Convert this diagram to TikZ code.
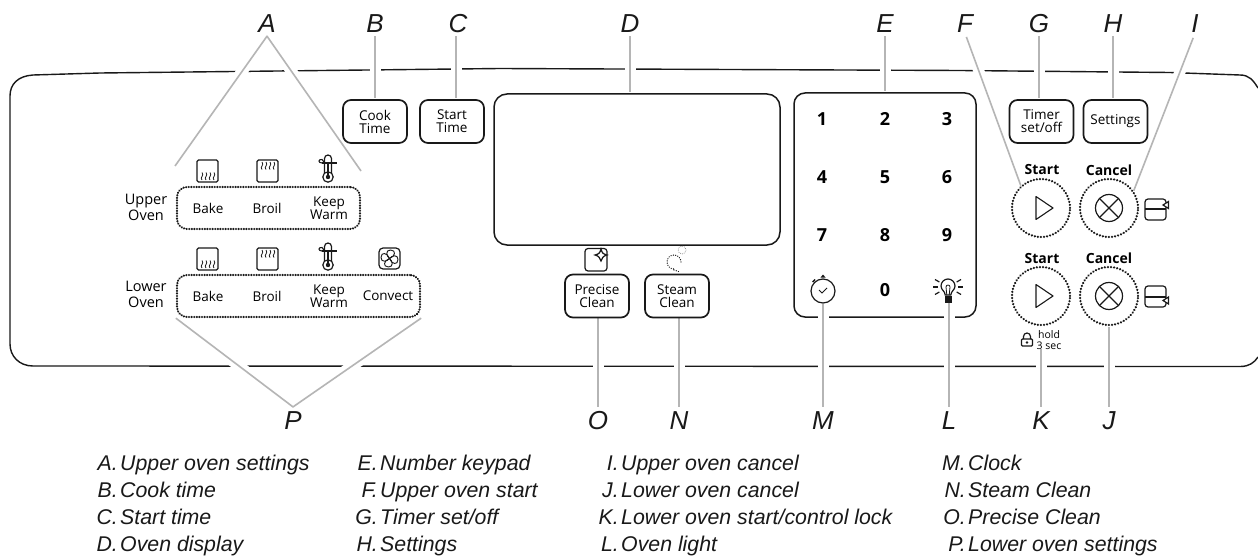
\documentclass[tikz,border=0pt]{standalone}
\usepackage{fontspec}
\setmainfont{Liberation Sans}
\newfontfamily\panelfamily{Open Sans}
\newcommand{\panelfont}{\panelfamily\fontsize{13.5}{13}\selectfont}
\newcommand{\ovenfont}{\panelfamily\fontsize{14.5}{16}\selectfont}
\newcommand{\startfont}{\panelfamily\bfseries\fontsize{14}{14}\selectfont}
\newcommand{\digitfont}{\panelfamily\bfseries\fontsize{18}{18}\selectfont}
\newcommand{\holdfont}{\panelfamily\fontsize{10.5}{10.5}\selectfont}
\newcommand{\callfont}{\itshape\fontsize{26}{26}\selectfont}
\newcommand{\legendfont}{\itshape\fontsize{21.3}{21}\selectfont}
\pgfdeclarelayer{bg}
\pgfdeclarelayer{mid}
\pgfsetlayers{bg,mid,main}
\definecolor{ink}{gray}{0.1}
\tikzset{
  btn/.style={draw=ink,line width=1.7pt,rounded corners=8pt,minimum width=64pt,minimum height=43pt,inner sep=0pt,align=center,font=\panelfont},
  grp/.style={draw=ink,line width=2.3pt,dash pattern=on 0.1pt off 2.5pt,line cap=round,rounded corners=10pt,inner sep=0pt,minimum height=42pt},
  ptext/.style={inner sep=0pt,align=center,font=\panelfont},
  ovenlbl/.style={inner sep=0pt,align=center,font=\ovenfont},
  dial/.style={circle,draw=ink,line width=2.4pt,dash pattern=on 0.1pt off 3pt,line cap=round,minimum size=58pt,inner sep=0pt},
  bold/.style={inner sep=0pt,font=\startfont},
  digit/.style={inner sep=0pt,font=\digitfont},
  call/.style={inner sep=0pt,anchor=base,font=\callfont,text=ink},
  legkey/.style={inner sep=0pt,anchor=base east,font=\legendfont,text=ink},
  legval/.style={inner sep=0pt,anchor=base west,font=\legendfont,text=ink},
  leader/.style={draw=gray!58,line width=1.6pt,line join=round,preaction={draw=white,line width=11pt}},
  icon/.style={draw=ink,line width=1.2pt},
  bakeicon/.pic={
    \draw[icon,rounded corners=1.5pt] (0,0) rectangle (21,22);
    \foreach \i in {5,9,13,17}{\draw[icon,line width=0.8pt] (\i,20) .. controls (\i-2.8,17.5) and (\i+2.8,15.5) .. (\i,12.5);}
  },
  broilicon/.pic={
    \draw[icon,rounded corners=1.5pt] (0,0) rectangle (21,22);
    \foreach \i in {5,9,13,17}{\draw[icon,line width=0.8pt] (\i,9.5) .. controls (\i-2.8,7) and (\i+2.8,5) .. (\i,2);}
  },
  thermo/.pic={
    \draw[icon] (-3.5,18) -- (-3.5,3.5) arc[start angle=180,end angle=360,radius=3.5] -- (3.5,18);
    \draw[icon] (0,22) circle[radius=5.2];
    \fill[ink] (0,22) circle[radius=2.2];
    \draw[icon] (0,9) -- (0,20);
    \draw[icon,line width=1.1pt] (-6,8) -- (9,8);
    \draw[icon,line width=1.1pt] (-6,8) .. controls (-10,8) and (-10,4) .. (-6,4.5) -- (-4,7);
  },
  fanicon/.pic={
    \draw[icon,rounded corners=4pt] (0,0) rectangle (21,21);
    \foreach \a in {0,90,180,270}{\draw[icon,line width=0.9pt,shift={(10.5,10.5)},rotate=\a] (0,0) .. controls (-3,-2) and (-4.5,-8.5) .. (1,-8.5) .. controls (7,-8.5) and (6,-2) .. (0,0);}
  },
  sideup/.pic={
    \draw[icon,rounded corners=3pt] (0,0) rectangle (21,21);
    \draw[icon] (0,10) -- (21,10);
    \draw[icon,fill=white] (23.5,2.5) -- (18,6) -- (23.5,9.5) -- cycle;
  },
  sidedown/.pic={
    \draw[icon,rounded corners=3pt] (0,0) rectangle (21,21);
    \draw[icon] (0,11) -- (21,11);
    \draw[icon,fill=white] (23.5,11) -- (18,14.5) -- (23.5,18) -- cycle;
  },
  lockicon/.pic={
    \draw[icon,rounded corners=1pt] (-5.5,-1) rectangle (5.5,6);
    \draw[icon] (-3.5,-1) -- (-3.5,-3.5) arc[start angle=180,end angle=360,radius=3.5] -- (3.5,-1);
    \fill[ink] (0,2.5) circle[radius=1.4];
  },
  bulbicon/.pic={
    \draw[icon] (-2.8,5) .. controls (-3,1) and (-7,0) .. (-7,-4) arc[start angle=180,end angle=360,radius=7] .. controls (7,0) and (3,1) .. (2.8,5) -- cycle;
    \draw[icon,line width=0.8pt] (-1.2,5) -- (-2,-3) arc[start angle=180,end angle=360,radius=2] -- (1.2,5);
    \fill[ink] (-3.5,6) rectangle (3.5,13);
    \foreach \a in {-30,0,30}{\draw[icon,shift={(0,-3)}] (\a:10) -- (\a:15); \draw[icon,shift={(0,-3)}] (180-\a:10) -- (180-\a:15);}
  },
}
\begin{document}
\begin{tikzpicture}[x=1pt,y=-1pt]
\useasboundingbox (0,0) rectangle (1258,556);
\begin{pgfonlayer}{bg}
  \fill[white] (0,0) rectangle (1258,556);
  \draw[ink,line width=1.4pt] (1258,88) .. controls (1253,80) and (1249,75) .. (1240,75) -- (1170,72.5) -- (960,70.5) -- (500,68.5) -- (100,73) -- (33,75) .. controls (18,76) and (10,84) .. (10,96) -- (10,344) .. controls (10,356) and (19,366) .. (33,366) -- (1240,366.5) .. controls (1249,366.5) and (1254,363) .. (1258,357);
  \node[draw=ink,line width=1.5pt,rounded corners=11pt,minimum width=182pt,minimum height=224pt,inner sep=0pt] (keypad) at (885,205) {};
\end{pgfonlayer}

% callout letters
\node[call] (lA) at (267,33) {A};
\node[call] (lB) at (375,33) {B};
\node[call] (lC) at (458,33) {C};
\node[call] (lD) at (630,33) {D};
\node[call] (lE) at (885,33) {E};
\node[call] (lF) at (965,33) {F};
\node[call] (lG) at (1039,33) {G};
\node[call] (lH) at (1113,33) {H};
\node[call] (lI) at (1195,33) {I};
\node[call] (lP) at (293,429) {P};
\node[call] (lO) at (598,429) {O};
\node[call] (lN) at (679,429) {N};
\node[call] (lM) at (823,429) {M};
\node[call] (lL) at (949,429) {L};
\node[call] (lK) at (1041,429) {K};
\node[call] (lJ) at (1109,429) {J};

% top buttons
\node[btn] (cook) at (375,121.5) {Cook\\Time};
\node[btn] (startt) at (452,121.5) {Start\\Time};
\node[btn] (timer) at (1041.5,121.5) {Timer\\set/off};
\node[btn] (settings) at (1115.5,121.5) {Settings};
\node[draw=ink,line width=1.5pt,rounded corners=13pt,minimum width=286pt,minimum height=151pt,inner sep=0pt] (display) at (637,169.5) {};

% upper oven
\node[ovenlbl] (upperlbl) at (146,207) {Upper\\Oven};
\node[grp,minimum width=183pt] (uppergrp) at (268.5,208) {};
\node[ptext] (ubake) at (208,208) {Bake};
\node[ptext] (ubroil) at (267,208) {Broil};
\node[ptext] (ukeep) at (329,208) {Keep\\Warm};
\pic at (197,160) {bakeicon};
\pic at (257,160) {broilicon};
\pic at (328,155) {thermo};

% lower oven
\node[ovenlbl] (lowerlbl) at (146,294) {Lower\\Oven};
\node[grp,minimum width=243pt] (lowergrp) at (298.5,296) {};
\node[ptext] (lbake) at (208,296) {Bake};
\node[ptext] (lbroil) at (267,296) {Broil};
\node[ptext] (lkeep) at (329,296) {Keep\\Warm};
\node[ptext] (lconv) at (388,296) {Convect};
\pic at (197,248) {bakeicon};
\pic at (257,248) {broilicon};
\pic at (328,243) {thermo};
\pic at (379,248) {fanicon};

% clean buttons
\node[btn] (pclean) at (597,296) {Precise\\Clean};
\node[btn] (sclean) at (677,296) {Steam\\Clean};
\draw[icon,rounded corners=3pt] (585,248.5) rectangle (607,271);
\draw[icon,fill=white] (601,249) .. controls (602,253) and (603,254) .. (607,255) .. controls (603,256) and (602,258) .. (601,261) .. controls (600,258) and (599,256) .. (595,255) .. controls (599,254) and (600,253) .. (601,249) -- cycle;
\draw[gray,line width=0.9pt,dash pattern=on 0.1pt off 1.8pt,line cap=round] (682,250) circle[radius=4];
\draw[ink,line width=1.3pt,dash pattern=on 0.1pt off 2.2pt,line cap=round] (681,262) arc[start angle=0,end angle=-270,radius=7] (674,270) -- (680,272);

% keypad digits
\node[digit] (d1) at (822,119) {1};
\node[digit] (d2) at (885,119) {2};
\node[digit] (d3) at (947,119) {3};
\node[digit] (d4) at (822,177) {4};
\node[digit] (d5) at (885,177) {5};
\node[digit] (d6) at (947,177) {6};
\node[digit] (d7) at (822,235) {7};
\node[digit] (d8) at (885,235) {8};
\node[digit] (d9) at (947,235) {9};
\node[digit] (d0) at (885,290) {0};
\node[circle,draw=ink,line width=1.2pt,minimum size=24pt,inner sep=0pt] (clock) at (823,291) {};
\draw[icon,line width=0.9pt] (819,290) -- (822,293) -- (827,288);
\fill[ink] (820.5,277.5) -- (823,274.5) -- (825.5,277.5) -- cycle;
\draw[icon,line width=1.4pt] (812.5,282) -- (815,279.5);
\pic at (948,290) {bulbicon};
\coordinate (bulbbase) at (948,303);

% start / cancel
\node[bold] (startU) at (1042,170) {Start};
\node[bold] (cancelU) at (1109,170) {Cancel};
\node[bold] (startL) at (1042,258) {Start};
\node[bold] (cancelL) at (1109,258) {Cancel};
\node[dial] (dsU) at (1041,208) {};
\node[dial] (dcU) at (1109,208) {};
\node[dial] (dsL) at (1041,296) {};
\node[dial] (dcL) at (1109,296) {};
\foreach \n/\y in {U/208,L/296}{
  \draw[icon,line width=1.1pt,line join=round] (1036,\y-11.5) -- (1053,\y) -- (1036,\y+11.5) -- cycle;
  \draw[icon,line width=1.2pt] (1109,\y) circle[radius=13.5];
  \draw[icon,line width=1.2pt] (1109-9.5,\y-9.5) -- (1109+9.5,\y+9.5);
  \draw[icon,line width=1.2pt] (1109-9.5,\y+9.5) -- (1109+9.5,\y-9.5);
}
\pic at (1145,199) {sideup};
\pic at (1145,286) {sidedown};
\pic at (1027,340) {lockicon};
\node[inner sep=0pt,align=center,font=\holdfont] (hold) at (1049,340) {hold\\3 sec};

% leaders
\coordinate (aleft) at (175,166);
\coordinate (aright) at (361,171);
\begin{pgfonlayer}{mid}
  \draw[leader] (aleft) -- ([yshift=-3pt]lA.south) -- (aright);
  \draw[leader,shorten <=3pt,shorten >=1pt] (lB.south) -- (lB.south |- cook.north);
  \draw[leader,shorten <=3pt,shorten >=1pt] ([xshift=-2pt]lC.south) -- ([xshift=-2pt]lC.south |- startt.north);
  \draw[leader,shorten <=3pt,shorten >=1pt] (lD.south) -- (lD.south |- display.north);
  \draw[leader,shorten <=3pt,shorten >=1pt] (lE.south) -- (lE.south |- keypad.north);
  \draw[leader,shorten <=4pt] (lF.south) -- (dsU.132);
  \draw[leader,shorten <=3pt,shorten >=1pt] (lG.south) -- (lG.south |- timer.north);
  \draw[leader,shorten <=3pt,shorten >=1pt] (lH.south) -- (lH.south |- settings.north);
  \draw[leader,shorten <=5pt] (lI.south) -- (dcU.35);
  \draw[leader] (lowergrp.south west) -- ([yshift=4pt]lP.north) -- (lowergrp.south east);
  \draw[leader,shorten >=4pt] (pclean.south -| lO.north) -- (lO.north);
  \draw[leader,shorten >=4pt] (sclean.south -| lN.north) -- (lN.north);
  \draw[leader,shorten >=4pt] (clock.south -| lM.north) -- (lM.north);
  \draw[leader,shorten >=4pt] (bulbbase -| lL.north) -- (lL.north);
  \draw[leader,shorten >=4pt] (hold.south -| lK.north) -- (lK.north);
  \draw[leader,shorten <=1pt,shorten >=4pt] (dcL.south) -- (lJ.north);
\end{pgfonlayer}

% legend
\node[legkey] (kA) at (118,470) {A.}; \node[legval] (vA) at (120,470) {Upper oven settings};
\node[legkey] (kB) at (118,497) {B.}; \node[legval] (vB) at (120,497) {Cook time};
\node[legkey] (kC) at (118,524) {C.}; \node[legval] (vC) at (120,524) {Start time};
\node[legkey] (kD) at (118,551) {D.}; \node[legval] (vD) at (120,551) {Oven display};
\node[legkey] (kE) at (378,470) {E.}; \node[legval] (vE) at (380,470) {Number keypad};
\node[legkey] (kF) at (378,497) {F.}; \node[legval] (vF) at (380,497) {Upper oven start};
\node[legkey] (kG) at (378,524) {G.}; \node[legval] (vG) at (380,524) {Timer set/off};
\node[legkey] (kH) at (378,551) {H.}; \node[legval] (vH) at (380,551) {Settings};
\node[legkey] (kI) at (619,470) {I.}; \node[legval] (vI) at (621,470) {Upper oven cancel};
\node[legkey] (kJ) at (619,497) {J.}; \node[legval] (vJ) at (621,497) {Lower oven cancel};
\node[legkey] (kK) at (619,524) {K.}; \node[legval] (vK) at (621,524) {Lower oven start/control lock};
\node[legkey] (kL) at (619,551) {L.}; \node[legval] (vL) at (621,551) {Oven light};
\node[legkey] (kM) at (966,470) {M.}; \node[legval] (vM) at (968,470) {Clock};
\node[legkey] (kN) at (966,497) {N.}; \node[legval] (vN) at (968,497) {Steam Clean};
\node[legkey] (kO) at (966,524) {O.}; \node[legval] (vO) at (968,524) {Precise Clean};
\node[legkey] (kP) at (966,551) {P.}; \node[legval] (vP) at (968,551) {Lower oven settings};
\end{tikzpicture}
\end{document}
